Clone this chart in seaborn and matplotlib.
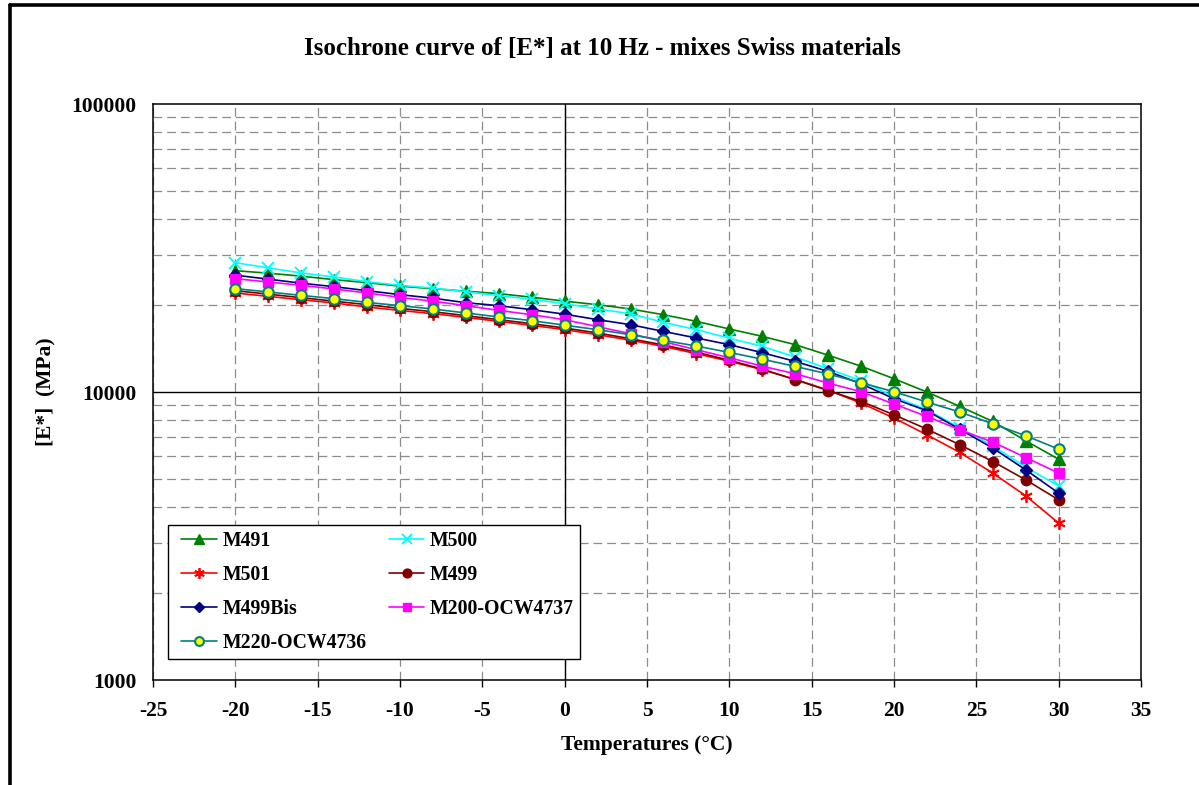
import matplotlib
matplotlib.use("Agg")
import matplotlib.pyplot as plt
import seaborn as sns
import pandas as pd
from matplotlib.lines import Line2D
from matplotlib.legend_handler import HandlerLine2D
from matplotlib.ticker import FixedLocator, FixedFormatter, NullFormatter, LogLocator

# ---------------- data ----------------
temps = [-20, -18, -16, -14, -12, -10, -8, -6, -4, -2, 0, 2, 4, 6, 8, 10,
         12, 14, 16, 18, 20, 22, 24, 26, 28, 30]

m491 = [26380, 25860, 25250, 24550, 23970, 23310, 22840, 22390, 21950, 21340,
        20670, 20100, 19420, 18550, 17590, 16550, 15600, 14600, 13420, 12290,
        11120, 9996, 8910, 7900, 6770, 5840]
m500 = [28130, 26960, 25900, 25090, 24160, 23460, 22940, 22300, 21600, 21000,
        20260, 19420, 18700, 17450, 16460, 15370, 14400, 13230, 12040, 10940,
        9627, 8680, 7510, 6500, 5485, 4720]
m501 = [22070, 21480, 20920, 20370, 19730, 19200, 18700, 18160, 17590, 17030,
        16460, 15810, 15130, 14400, 13580, 12790, 11950, 11070, 10140, 9155,
        8118, 7102, 6165, 5228, 4360, 3504]
m499 = [22480, 21860, 21260, 20670, 20100, 19510, 19000, 18410, 17830, 17270,
        16680, 16030, 15310, 14560, 13750, 12890, 12000, 11030, 10120, 9273,
        8335, 7433, 6556, 5736, 4955, 4222]
m499bis = [25450, 24650, 23870, 23210, 22480, 21780, 21170, 20420, 19940, 19310,
           18630, 17830, 17130, 16230, 15400, 14600, 13690, 12770, 11790, 10680,
           9475, 8608, 7421, 6385, 5368, 4455]
m200 = [24750, 24100, 23460, 22790, 22070, 21310, 20670, 19940, 19200, 18550,
        17830, 16860, 15940, 14950, 14020, 13150, 12290, 11570, 10740, 10020,
        9082, 8223, 7391, 6699, 5922, 5228]
m220 = [22850, 22250, 21650, 21090, 20470, 19940, 19420, 18810, 18220, 17690,
        17060, 16460, 15810, 15110, 14440, 13720, 13000, 12270, 11550, 10770,
        10020, 9228, 8519, 7755, 7046, 6334]

series_names = ["M491", "M500", "M501", "M499", "M499Bis", "M200-OCW4737", "M220-OCW4736"]
series_values = [m491, m500, m501, m499, m499bis, m200, m220]

x_ticks = [-25, -20, -15, -10, -5, 0, 5, 10, 15, 20, 25, 30, 35]
y_ticks = [1000, 10000, 100000]
y_tick_labels = ["1000", "10000", "100000"]

title = "Isochrone curve of [E*] at 10 Hz - mixes Swiss materials"
x_label = "Temperatures (°C)"
y_label = "[E*]  (MPa)"

# ---------------- style ----------------
styles = {
    "M491":          dict(color="#008000", marker="^", mfc="#008000", mec="#008000", ms=8, mew=1.0),
    "M500":          dict(color="#00FFFF", marker="x", mfc="#00FFFF", mec="#00FFFF", ms=8, mew=1.4),
    "M501":          dict(color="#FF0000", marker=(6, 2, 0), mfc="#FF0000", mec="#FF0000", ms=9, mew=1.3),
    "M499":          dict(color="#800000", marker="o", mfc="#800000", mec="#800000", ms=7.5, mew=1.0),
    "M499Bis":       dict(color="#000080", marker="D", mfc="#000080", mec="#000080", ms=6.5, mew=1.0),
    "M200-OCW4737":  dict(color="#FF00FF", marker="s", mfc="#FF00FF", mec="#FF00FF", ms=7.5, mew=1.0),
    "M220-OCW4736":  dict(color="#008080", marker="o", mfc="#FFFF00", mec="#008080", ms=7.5, mew=1.5),
}

sns.set_theme(style="white")
plt.rcParams["font.family"] = ["Liberation Serif", "DejaVu Serif"]
plt.rcParams["font.weight"] = "bold"
plt.rcParams["axes.labelweight"] = "bold"
plt.rcParams["text.color"] = "black"
plt.rcParams["axes.labelcolor"] = "black"
plt.rcParams["xtick.color"] = "black"
plt.rcParams["ytick.color"] = "black"

W, H = 1199, 785
fig = plt.figure(figsize=(W / 100, H / 100), dpi=100)
fig.patch.set_facecolor("white")
ax = fig.add_axes([153 / W, 1 - 680 / H, 988 / W, 576 / H])
ax.set_facecolor("white")

for name, vals in zip(series_names, series_values):
    st = styles[name]
    sns.lineplot(x=temps, y=vals, ax=ax, color=st["color"], linewidth=1.2,
                 marker=st["marker"], markersize=st["ms"],
                 markerfacecolor=st["mfc"], markeredgecolor=st["mec"],
                 markeredgewidth=st["mew"], label=name, legend=False, zorder=5)

ax.set_yscale("log")
ax.set_xlim(-25, 35)
ax.set_ylim(1000, 100000)
ax.xaxis.set_major_locator(FixedLocator(x_ticks))
ax.set_xticklabels([str(t) for t in x_ticks])
ax.yaxis.set_major_locator(FixedLocator(y_ticks))
ax.yaxis.set_major_formatter(FixedFormatter(y_tick_labels))
ax.yaxis.set_minor_locator(LogLocator(base=10, subs=range(2, 10)))
ax.yaxis.set_minor_formatter(NullFormatter())

grid_kw = dict(color="#8c8c8c", linewidth=0.9, linestyle=(0, (7, 4)))
ax.grid(True, which="major", axis="x", **grid_kw)
ax.grid(True, which="minor", axis="y", **grid_kw)
ax.grid(False, which="major", axis="y")
ax.axhline(10000, color="black", linewidth=1.0, zorder=2)
ax.axvline(0, color="black", linewidth=1.0, zorder=2)

for sp in ax.spines.values():
    sp.set_color("black")
    sp.set_linewidth(1.1)
    sp.set_visible(True)

ax.tick_params(axis="x", which="major", direction="out", length=5, width=1,
               color="black", labelcolor="black", pad=10, labelsize=15.5, bottom=True)
ax.tick_params(axis="y", which="both", length=0, pad=12, labelsize=15.5,
               labelcolor="black", left=True)
for lab in ax.get_xticklabels() + ax.get_yticklabels():
    lab.set_fontweight("bold")

ax.set_xlabel(x_label, fontsize=15.5, fontweight="bold", color="black")
ax.set_ylabel(y_label, fontsize=15.5, fontweight="bold", color="black")
ax.xaxis.set_label_coords(0.5, (680 - 735) / 576)
ax.yaxis.set_label_coords((45 - 153) / 988, 0.5)
ax.yaxis.label.set_va("center")

fig.text(602 / W, 1 - 48 / H, title, ha="center", va="center",
         fontsize=18, fontweight="bold", color="black")

# legend (row-major layout of the reference)
handles, labels = ax.get_legend_handles_labels()
hmap = dict(zip(labels, handles))
order = ["M491", "M501", "M499Bis", "M220-OCW4736", "M500", "M499", "M200-OCW4737"]
leg = ax.legend([hmap[o] for o in order], order, ncol=2, loc="lower left",
                bbox_to_anchor=((168 - 153) / 988, (680 - 659) / 576),
                borderaxespad=0, frameon=True, fancybox=False, shadow=False,
                prop=dict(family=["Liberation Serif"], weight="bold", size=14.2),
                handlelength=2.14, handletextpad=0.3, columnspacing=0.78,
                labelspacing=0.7, borderpad=0.32, markerscale=0.85,
                handler_map={Line2D: HandlerLine2D(xpad=0.36)})
for t in leg.get_texts():
    t.set_color("black")
leg.get_frame().set_edgecolor("black")
leg.get_frame().set_linewidth(1.0)
leg.get_frame().set_facecolor("white")
leg.get_frame().set_alpha(1)
leg.set_zorder(10)

# outer chart frame (left and top edges visible in the crop)
fig.add_artist(Line2D([9.5 / W, 9.5 / W], [0, 1 - 4.5 / H], transform=fig.transFigure,
                      color="black", linewidth=2.6))
fig.add_artist(Line2D([9.5 / W, 1.0], [1 - 4.5 / H, 1 - 4.5 / H], transform=fig.transFigure,
                      color="black", linewidth=2.6))

fig.savefig("out.png", dpi=100, facecolor="white")
